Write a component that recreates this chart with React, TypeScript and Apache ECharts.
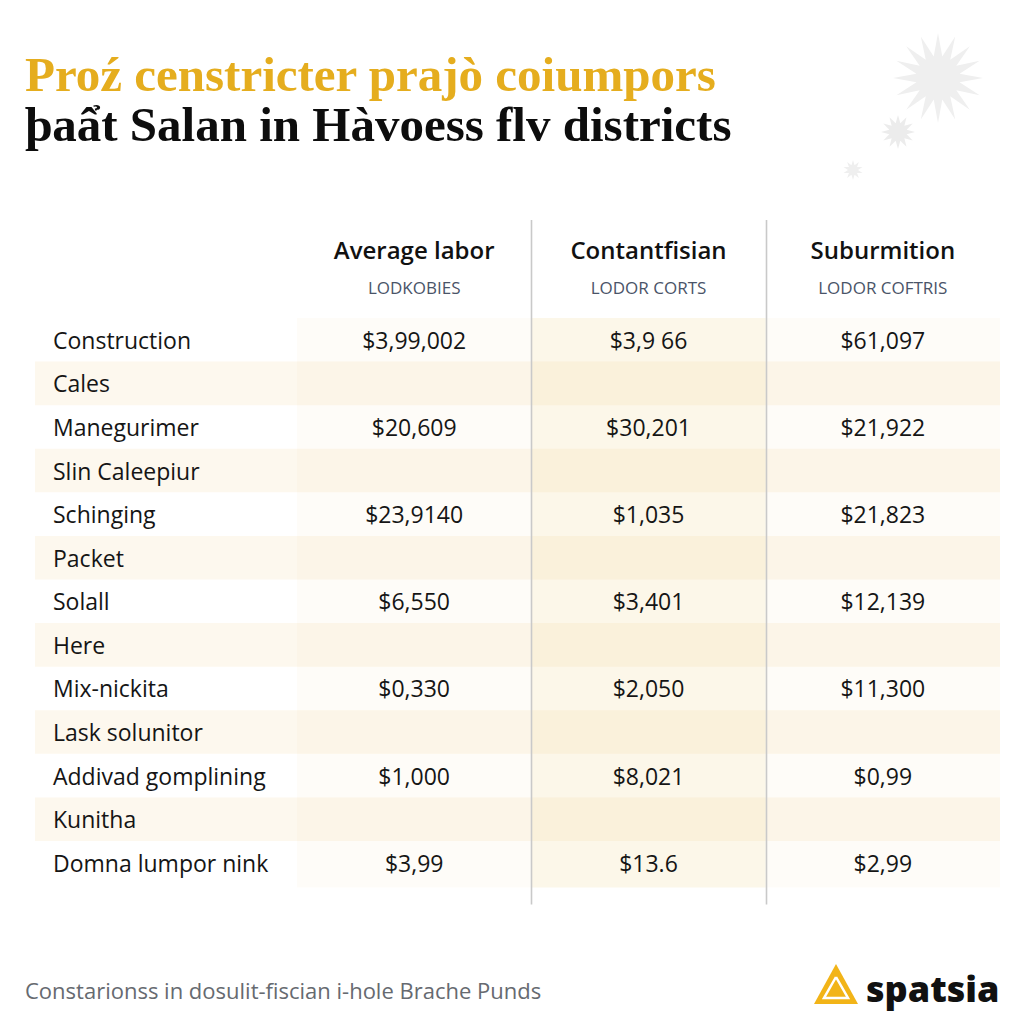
import React, { useEffect, useRef } from "react";
import * as echarts from "echarts";

const titleLine1 = "Proź censtricter prajò coiumpors";
const titleLine2 = "þaẩt Salan in Hàvoess flv districts";
const footnote = "Constarionss in dosulit-fiscian i-hole Brache Punds";
const brand = "spatsia";

const rowLabels = [
  "Construction",
  "Cales",
  "Manegurimer",
  "Slin Caleepiur",
  "Schinging",
  "Packet",
  "Solall",
  "Here",
  "Mix-nickita",
  "Lask solunitor",
  "Addivad gomplining",
  "Kunitha",
  "Domna lumpor nink",
];

const columnHeaders = ["Average labor", "Contantfisian", "Suburmition"];
const columnSubheaders = ["LODKOBIES", "LODOR CORTS", "LODOR COFTRIS"];

const averageLabor = ["$3,99,002", "", "$20,609", "", "$23,9140", "", "$6,550", "", "$0,330", "", "$1,000", "", "$3,99"];
const contantfisian = ["$3,9 66", "", "$30,201", "", "$1,035", "", "$3,401", "", "$2,050", "", "$8,021", "", "$13.6"];
const suburmition = ["$61,097", "", "$21,922", "", "$21,823", "", "$12,139", "", "$11,300", "", "$0,99", "", "$2,99"];

const FONT = "'Open Sans', 'Noto Sans', sans-serif";
const SERIF = "'Liberation Serif', 'DejaVu Serif', serif";

function starPoints(cx: number, cy: number, outer: number, inner: number, n: number) {
  const pts: number[][] = [];
  for (let i = 0; i < n * 2; i++) {
    const r = i % 2 === 0 ? outer : inner;
    const a = (Math.PI * i) / n - Math.PI / 2;
    pts.push([cx + r * Math.cos(a), cy + r * Math.sin(a)]);
  }
  return pts;
}

export default function App() {
  const ref = useRef<HTMLDivElement>(null);
  useEffect(() => {
    if (!ref.current) return;
    const chart = echarts.init(ref.current, undefined, { renderer: "svg" });
    const columns = [averageLabor, contantfisian, suburmition];
    const cells: { c: number; r: number; text: string }[] = [];
    columns.forEach((col, c) =>
      col.forEach((text, r) => {
        if (text) cells.push({ c, r, text });
      })
    );
    const stripeRows = rowLabels
      .map((_, r) => r)
      .filter((r) => columns.every((col) => !col[r]));
    const LABEL_SPAN = 262;

    chart.setOption({
      animation: false,
      backgroundColor: "#ffffff",
      grid: { left: 297, right: 24, top: 318, height: 566.6, containLabel: false },
      xAxis: {
        type: "category",
        position: "top",
        data: columnHeaders,
        axisLine: { show: false },
        axisTick: { show: false },
        splitLine: { show: false },
        axisLabel: {
          interval: 0,
          margin: 12,
          formatter: (v: string, i: number) => `{h|${v}}\n{s|${columnSubheaders[i]}}`,
          rich: {
            h: { fontSize: 24, fontWeight: 600, color: "#111111", fontFamily: FONT, lineHeight: 38 },
            s: { fontSize: 17, color: "#4a5468", fontFamily: FONT, lineHeight: 38 },
          },
        },
      },
      yAxis: {
        type: "category",
        inverse: true,
        data: rowLabels,
        z: 10,
        axisLine: { show: false },
        axisTick: { show: false },
        splitLine: { show: false },
        axisLabel: {
          interval: 0,
          align: "left",
          margin: 244,
          fontSize: 23,
          color: "#151515",
          fontFamily: FONT,
        },
      },
      series: [
        {
          type: "custom",
          z: 1,
          silent: true,
          data: columnHeaders.map((_, c) => [c, 0]),
          renderItem: (params: any, api: any) => {
            const c = api.value(0);
            const p = api.coord([c, 0]);
            const w = api.size([1, 0])[0];
            const cs = params.coordSys;
            const fill = c === 1 ? "rgba(240,210,140,0.19)" : "rgba(240,210,140,0.06)";
            return {
              type: "rect",
              shape: { x: p[0] - w / 2, y: cs.y, width: w, height: cs.height + 3 },
              style: { fill },
            };
          },
        },
        {
          type: "custom",
          z: 2,
          silent: true,
          data: stripeRows.map((r) => [0, r]),
          renderItem: (params: any, api: any) => {
            const p = api.coord([0, api.value(1)]);
            const h = api.size([0, 1])[1];
            const cs = params.coordSys;
            return {
              type: "rect",
              shape: { x: cs.x - LABEL_SPAN, y: p[1] - h / 2, width: cs.width + LABEL_SPAN, height: h },
              style: { fill: "rgba(240,210,140,0.15)" },
            };
          },
        },
        {
          type: "custom",
          z: 3,
          silent: true,
          data: [[0, 0], [1, 0]],
          renderItem: (params: any, api: any) => {
            const c = api.value(0);
            const p = api.coord([c, 0]);
            const w = api.size([1, 0])[0];
            const cs = params.coordSys;
            const x = Math.round(p[0] + w / 2) + 0.5;
            return {
              type: "line",
              shape: { x1: x, y1: cs.y - 98, x2: x, y2: cs.y + cs.height + 20 },
              style: { stroke: "#c9c9c9", lineWidth: 1.6 },
            };
          },
        },
        {
          type: "custom",
          z: 4,
          silent: true,
          data: cells.map((d) => [d.c, d.r]),
          renderItem: (params: any, api: any) => {
            const p = api.coord([api.value(0), api.value(1)]);
            return {
              type: "text",
              x: p[0],
              y: p[1],
              style: {
                text: cells[params.dataIndex].text,
                fill: "#151515",
                fontSize: 23,
                fontFamily: FONT,
                align: "center",
                verticalAlign: "middle",
              },
            };
          },
        },
      ],
      graphic: [
        { type: "polygon", shape: { points: starPoints(938, 78, 45, 22, 16) }, style: { fill: "#efefef" } },
        { type: "polygon", shape: { points: starPoints(898, 132, 17, 9, 12) }, style: { fill: "#ececec" } },
        { type: "polygon", shape: { points: starPoints(853, 170, 10, 5, 10) }, style: { fill: "#efefef" } },
        {
          type: "text",
          x: 25,
          y: 74,
          style: {
            text: titleLine1,
            fill: "#e5ad1e",
            font: `bold 49px ${SERIF}`,
            verticalAlign: "middle",
          },
        },
        {
          type: "text",
          x: 25,
          y: 124,
          style: {
            text: titleLine2,
            fill: "#0d0d0d",
            font: `bold 49px ${SERIF}`,
            verticalAlign: "middle",
          },
        },
        {
          type: "text",
          x: 25,
          y: 990,
          style: { text: footnote, fill: "#666a70", fontSize: 22, fontFamily: FONT, verticalAlign: "middle" },
        },
        {
          type: "polygon",
          shape: { points: [[814, 1004], [858, 1004], [836, 964]] },
          style: { fill: "#f2b418" },
        },
        {
          type: "polyline",
          shape: { points: [[836, 977], [824, 998], [848, 998], [836, 977]] },
          style: { stroke: "#ffffff", lineWidth: 2.5, fill: "none" },
        },
        {
          type: "text",
          x: 866,
          y: 988,
          style: { text: brand, fill: "#111111", fontSize: 36, fontWeight: 800, fontFamily: FONT, verticalAlign: "middle" },
        },
      ],
    });
    return () => chart.dispose();
  }, []);
  return (
    <div
      ref={ref}
      style={{ position: "absolute", left: 0, top: 0, width: 1024, height: 1024, background: "#fff" }}
    />
  );
}
